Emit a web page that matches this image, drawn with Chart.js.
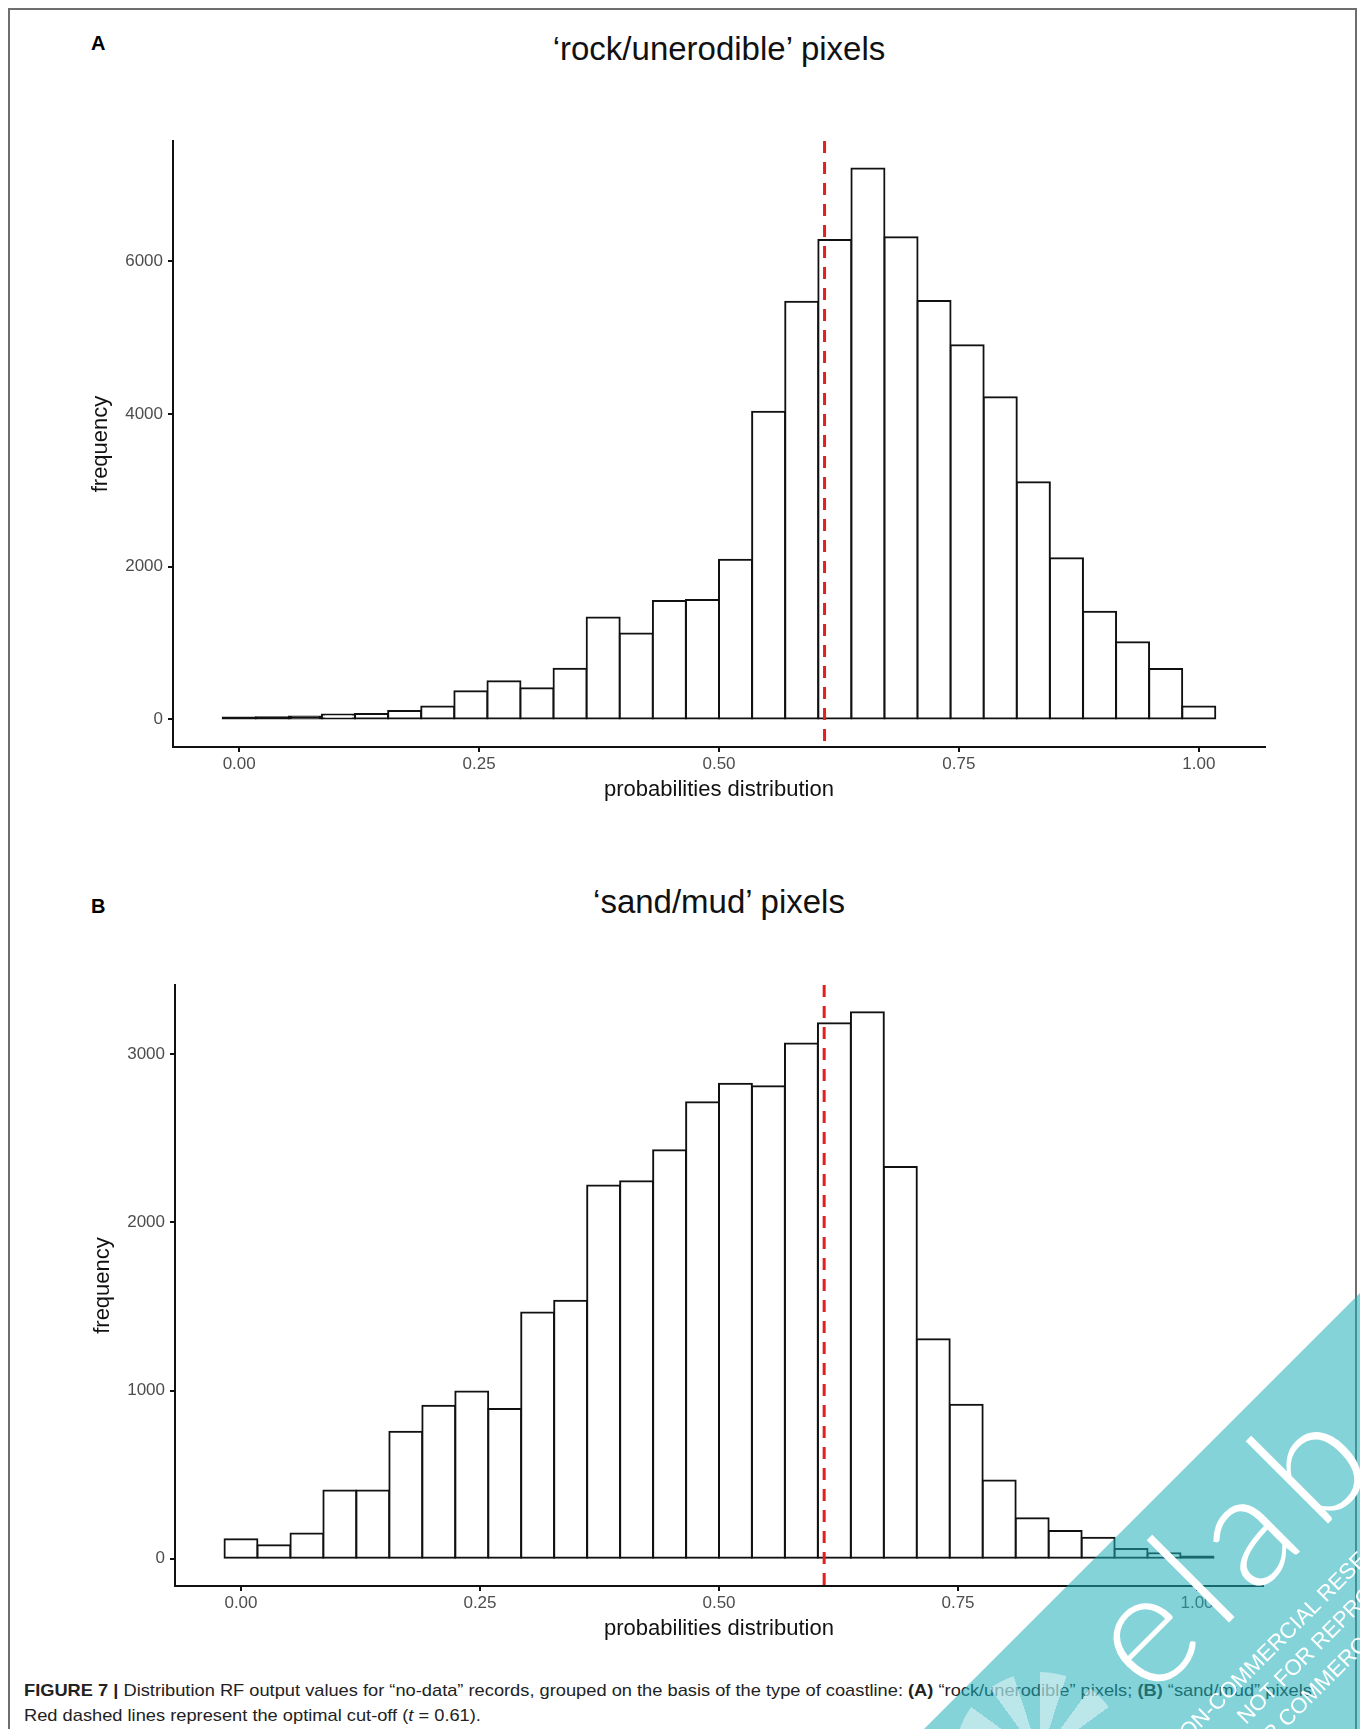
<!DOCTYPE html>
<html>
<head>
<meta charset="utf-8">
<script src="https://cdn.jsdelivr.net/npm/chart.js@4.4.1/dist/chart.umd.min.js"></script>
<style>
	html, body { margin: 0; padding: 0; background: #fff; }
	body { position: relative; width: 1360px; height: 1729px; overflow: hidden; font-family: "Liberation Sans", Arial, sans-serif; }
	canvas { position: absolute; left: 0; }
	.frame { position: absolute; left: 8px; top: 8px; width: 1345px; height: 1780px; border: 2px solid #6e6e6e; border-bottom: none; }
	.letter { position: absolute; left: 91px; font-size: 20px; line-height: 22px; font-weight: bold; color: #000; }
	.title { position: absolute; left: 219px; width: 1000px; text-align: center; font-size: 33px; line-height: 40px; color: #111; }
	.caption { position: absolute; left: 24px; top: 1678px; transform-origin: 0 0; color: #222; font-size: 17px; line-height: 25px; }
	.caption div { width: max-content; white-space: nowrap; }
	.watermark { position: absolute; left: 0; top: 0; width: 1360px; height: 1729px; z-index: 5; pointer-events: none;
		clip-path: polygon(1360px 1293px, 1360px 1729px, 924px 1729px); background: rgba(30, 175, 185, 0.55); }
	.wm-star { position: absolute; left: 955px; top: 1672px; width: 170px; height: 170px; border-radius: 50%;
		background: repeating-conic-gradient(rgba(255,255,255,0.45) 0deg 18deg, rgba(255,255,255,0) 18deg 36deg); }
	.wm-logo { position: absolute; left: 1163px; top: 1554px; font-family: Lato, sans-serif; font-weight: 300; font-size: 160px; line-height: 160px;
		color: #fff; letter-spacing: 14px; transform: rotate(-45deg); transform-origin: 0 100%; white-space: nowrap; }
	.wm-note { position: absolute; font-size: 22px; line-height: 22px; color: #fff; white-space: nowrap; transform: rotate(-45deg); transform-origin: 0 18px; }
</style>
</head>
<body>
<div class="frame"></div>

<div class="letter" style="top:32px">A</div>
<div class="title" style="top:29px">‘rock/unerodible’ pixels</div>
<canvas id="rockChart" width="1360" height="820" style="top:0"></canvas>

<div class="letter" style="top:895px">B</div>
<div class="title" style="top:882px">‘sand/mud’ pixels</div>
<canvas id="sandChart" width="1360" height="810" style="top:840px"></canvas>

<div class="caption">
	<div id="captionFirst"><b>FIGURE 7 |</b> Distribution RF output values for “no-data” records, grouped on the basis of the type of coastline: <b>(A)</b> “rock/unerodible” pixels; <b>(B)</b> “sand/mud” pixels.</div>
	<div>Red dashed lines represent the optimal cut-off (<i>t</i> = 0.61).</div>
</div>

<div class="watermark">
	<div class="wm-star"></div>
	<div class="wm-logo">elab</div>
	<div class="wm-note" style="left:1177px;top:1734px">NON-COMMERCIAL RESEARCH</div>
	<div class="wm-note" style="left:1246px;top:1707px">NOT FOR REPRODUCTION</div>
	<div class="wm-note" style="left:1213px;top:1784px">NOT FOR COMMERCIAL USE</div>
</div>

<script>
// bin centres of the 30-bin histograms
const binCenters = [0, 0.0345, 0.0690, 0.1034, 0.1379, 0.1724, 0.2069, 0.2414, 0.2759, 0.3103,
	0.3448, 0.3793, 0.4138, 0.4483, 0.4828, 0.5172, 0.5517, 0.5862, 0.6207, 0.6552,
	0.6897, 0.7241, 0.7586, 0.7931, 0.8276, 0.8621, 0.8966, 0.9310, 0.9655, 1.0];
const rockCounts = [25, 28, 40, 65, 72, 110, 170, 370, 500, 410,
	665, 1335, 1125, 1550, 1565, 2090, 4030, 5470, 6280, 7215,
	6315, 5480, 4900, 4220, 3105, 2110, 1410, 1010, 660, 170];
const sandCounts = [115, 80, 150, 405, 405, 755, 910, 995, 890, 1465,
	1535, 2220, 2245, 2430, 2715, 2825, 2810, 3065, 3185, 3250,
	2330, 1305, 915, 465, 240, 165, 125, 58, 32, 13];
const xTickValues = [0, 0.25, 0.5, 0.75, 1];
const rockYTicks = [0, 2000, 4000, 6000];
const sandYTicks = [0, 1000, 2000, 3000];
const cutOff = 0.61;
const xLimits = [-0.069, 1.069];

Chart.defaults.font.family = '"Liberation Sans", Arial, sans-serif';

function cutOffLine(value) {
	return {
		id: 'cutOffLine',
		afterDatasetsDraw(chart) {
			let {ctx, chartArea, scales} = chart;
			let x = scales.x.getPixelForValue(value);
			ctx.save();
			ctx.strokeStyle = '#e41f1f';
			ctx.lineWidth = 3;
			ctx.setLineDash([12, 9]);
			ctx.beginPath();
			ctx.moveTo(x, chartArea.top);
			ctx.lineTo(x, chartArea.bottom);
			ctx.stroke();
			ctx.restore();
		},
	};
}

// bars only a few pixels high read as solid black outlines in the figure
function barFill(context) {
	let {chart, raw} = context;
	let y = chart.scales.y;
	if (!raw || !y) return '#fff';
	let height = y.getPixelForValue(0) - y.getPixelForValue(raw.y);
	return height < 4.5 ? '#111' : '#fff';
}

function makeHistogram(canvasId, counts, yTicks, padding) {
	let peak = Math.max(...counts);
	let axisLine = {display: true, color: '#111', width: 2};
	let tickMarks = {display: true, drawOnChartArea: false, drawTicks: true, tickLength: 5, color: '#111', lineWidth: 2, offset: false};
	return new Chart(document.getElementById(canvasId), {
		type: 'bar',
		data: {
			datasets: [{
				data: binCenters.map((x, i) => ({x, y: counts[i]})),
				backgroundColor: barFill,
				borderColor: '#111',
				borderWidth: 2,
				borderSkipped: false,
				inflateAmount: 1,
				barPercentage: 1,
				categoryPercentage: 1,
			}],
		},
		options: {
			responsive: false,
			animation: false,
			devicePixelRatio: 1,
			layout: {padding},
			plugins: {
				legend: {display: false},
				tooltip: {enabled: false},
			},
			scales: {
				x: {
					type: 'linear',
					min: xLimits[0],
					max: xLimits[1],
					offset: false,
					afterBuildTicks: scale => { scale.ticks = xTickValues.map(value => ({value})); },
					afterFit: scale => { scale.height = 56; },
					ticks: {
						callback: v => v.toFixed(2),
						color: '#4d4d4d',
						font: {size: 17},
						padding: 2,
						autoSkip: false,
						maxRotation: 0,
					},
					grid: tickMarks,
					border: axisLine,
					title: {display: true, text: 'probabilities distribution', color: '#111', font: {size: 22}, padding: 0},
				},
				y: {
					type: 'linear',
					min: -0.05 * peak,
					max: 1.05 * peak,
					afterBuildTicks: scale => { scale.ticks = yTicks.map(value => ({value})); },
					afterFit: scale => { scale.width = 85; },
					ticks: {
						callback: v => String(v),
						color: '#4d4d4d',
						font: {size: 17},
						padding: 5,
					},
					grid: tickMarks,
					border: axisLine,
					title: {display: true, text: 'frequency', color: '#111', font: {size: 22}, padding: 0},
				},
			},
		},
		plugins: [cutOffLine(cutOff)],
	});
}

makeHistogram('rockChart', rockCounts, rockYTicks, {left: 88, top: 141, right: 95, bottom: 17});
makeHistogram('sandChart', sandCounts, sandYTicks, {left: 90, top: 145, right: 97, bottom: 8});

// fit caption to the width it has in the figure
let caption = document.querySelector('.caption');
let firstLine = document.getElementById('captionFirst');
caption.style.transform = `scaleX(${1293 / firstLine.getBoundingClientRect().width})`;
</script>
</body>
</html>
